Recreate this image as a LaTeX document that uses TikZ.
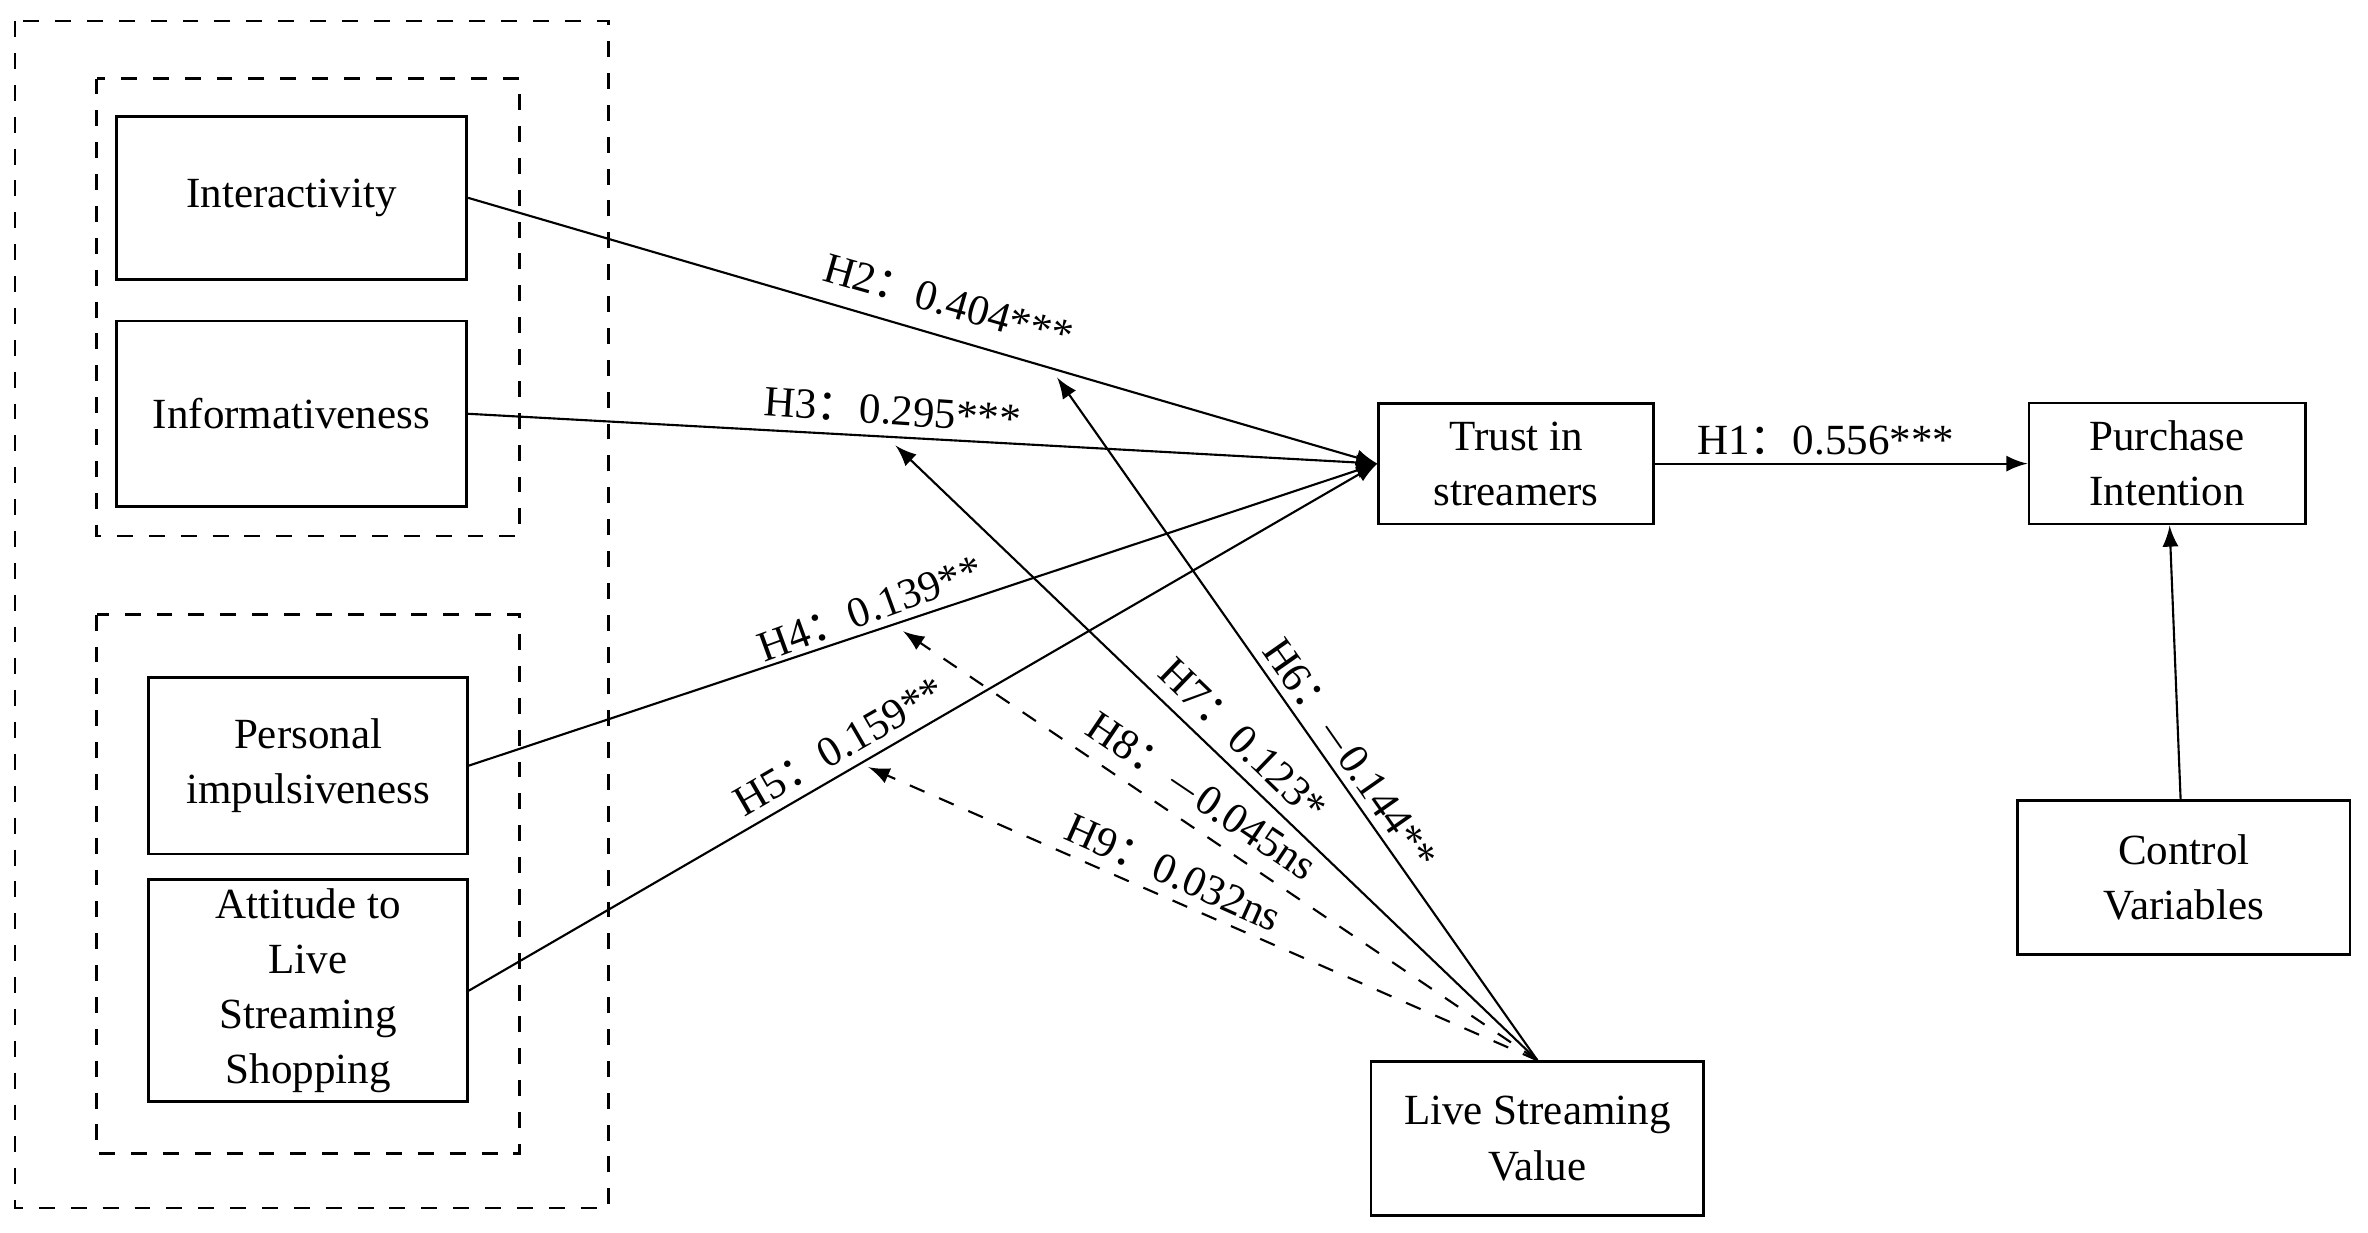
\documentclass[tikz,border=0pt]{standalone}
\usepackage{fontspec}
\setmainfont{Liberation Serif}
\newfontfamily\cjk{Noto Sans CJK SC}
\usetikzlibrary{positioning,arrows}
\newcommand{\hc}{{\cjk ：}}
\tikzset{
  var/.style={draw,line width=0.5pt,align=center,font=\fontsize{8.1}{10.4}\selectfont},
  grp/.style={draw,dashed,line width=0.5pt},
  lbl/.style={font=\fontsize{8.1}{10}\selectfont,inner sep=0pt},
  path/.style={-latex,line width=0.4pt},
}
\begin{document}
\begin{tikzpicture}[x=0.01cm,y=-0.01cm]
				\useasboundingbox (0,0) rectangle (1568,816);
				% groups
				\draw[grp] (10,14) rectangle (403,800);
				\draw[grp] (64,52) rectangle (344,355);
				\draw[grp] (64,407) rectangle (344,764);
				% variables
				\node[var,minimum width=2.32cm,minimum height=1.08cm] (inter) at (193,131) {Interactivity};
				\node[var,minimum width=2.32cm,minimum height=1.23cm] (info) at (193,274) {Informativeness};
				\node[var,minimum width=2.11cm,minimum height=1.17cm] (impul) at (204,507) {Personal\\impulsiveness};
				\node[var,minimum width=2.11cm,minimum height=1.47cm,inner sep=0pt] (atti) at (204,656) {Attitude to\\Live\\Streaming\\Shopping};
				\node[var,minimum width=1.82cm,minimum height=0.8cm] (trust) at (1004,307) {Trust in\\streamers};
				\node[var,minimum width=1.83cm,minimum height=0.8cm] (purch) at (1435,307) {Purchase\\Intention};
				\node[var,minimum width=2.2cm,minimum height=1.02cm] (ctrl) at (1446,581) {Control\\Variables};
				\node[var,minimum width=2.2cm,minimum height=1.02cm] (lsv) at (1018,754) {Live Streaming\\Value};
				\coordinate (e6) at (700,250);
				\coordinate (e7) at (593,295);
				\coordinate (e8) at (598,418);
				\coordinate (e9) at (575,508);
				% paths
				\draw[path] (inter.east) -- (trust.west);
				\draw[path] (info.east) -- (trust.west);
				\draw[path] (impul.east) -- (trust.west);
				\draw[path] (atti.east) -- (trust.west);
				\draw[path] (trust) -- (purch);
				\draw[path] (ctrl) -- (purch);
				\draw[path] (lsv.north) -- (e6);
				\draw[path] (lsv.north) -- (e7);
				\draw[path,dashed] (lsv.north) -- (e8);
				\draw[path,dashed] (lsv.north) -- (e9);
				% labels
				\node[lbl] (h1) at (1209,292) {H1\hc 0.556***};
				\node[lbl,rotate=-16] (h2) at (628,200) {H2\hc 0.404***};
				\node[lbl,rotate=-4] (h3) at (591,272) {H3\hc 0.295***};
				\node[lbl,rotate=20] (h4) at (576,403) {H4\hc 0.139**};
				\node[lbl,rotate=30] (h5) at (556,494) {H5\hc 0.159**};
				\node[lbl,rotate=-55] (h6) at (893,500) {H6\hc $-$0.144**};
				\node[lbl,rotate=-44] (h7) at (823,490) {H7\hc 0.123*};
				\node[lbl,rotate=-34] (h8) at (795,528) {H8\hc $-$0.045ns};
				\node[lbl,rotate=-24] (h9) at (777,578) {H9\hc 0.032ns};
			\end{tikzpicture}
\end{document}
